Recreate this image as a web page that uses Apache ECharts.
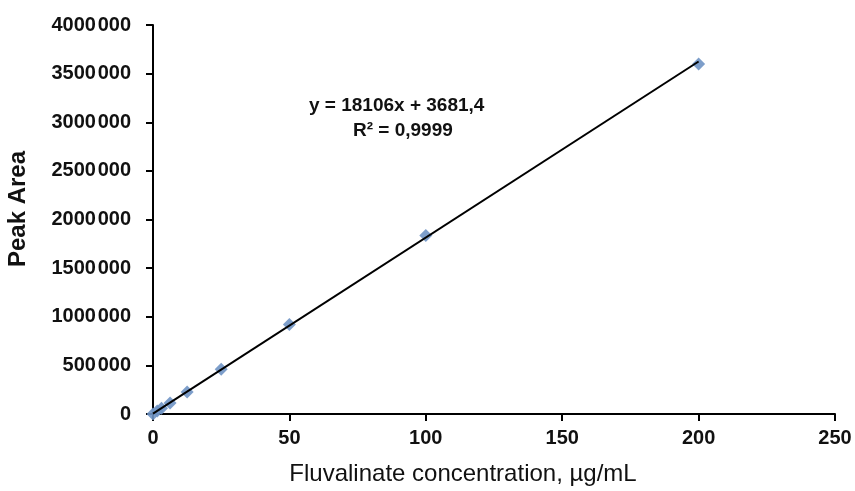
<!DOCTYPE html>
<html>
<head>
<meta charset="utf-8">
<script src="https://cdn.jsdelivr.net/npm/echarts@6/dist/echarts.min.js"></script>
<style>
  html, body { margin: 0; padding: 0; background: #fff; }
  #chart { width: 855px; height: 491px; }
</style>
</head>
<body>
<div id="chart"></div>
<script>
// 标准曲线数据
const concentrations = [0, 1.5625, 3.125, 6.25, 12.5, 25, 50, 100, 200];
const peakAreas = [0, 30000, 60000, 112000, 225000, 460000, 920000, 1835000, 3600000];
// 趋势线端点 y = 18106x + 3681,4
const trendX = [0, 200];
const trendY = [3681, 3624881];
const xTicks = [0, 50, 100, 150, 200, 250];
const yTicks = [0, 500000, 1000000, 1500000, 2000000, 2500000, 3000000, 3500000, 4000000];
const equationText = 'y = 18106x + 3681,4';
const r2Text = 'R² = 0,9999';

const FONT = '"Liberation Sans", Arial, sans-serif';

// 千位分隔：极窄空格（原图为 4000 000 样式）
const fmtY = v => {
  const s = String(v);
  return s.length > 3 ? s.slice(0, -3) + '\u200A' + s.slice(-3) : s;
};

const chart = echarts.init(document.getElementById('chart'));

chart.setOption({
  animation: false,
  backgroundColor: '#fff',
  grid: { left: 153, right: 20, top: 25, bottom: 77, containLabel: false },
  xAxis: {
    type: 'value', min: xTicks[0], max: xTicks[xTicks.length - 1], interval: xTicks[1] - xTicks[0],
    name: 'Fluvalinate concentration, µg/mL',
    nameLocation: 'middle', nameGap: 48,
    nameTextStyle: { fontFamily: FONT, fontSize: 24, color: '#111', padding: [0, 62, 0, 0] },
    axisLine: { show: true, lineStyle: { color: '#000', width: 2 } },
    axisTick: { show: true, inside: false, length: 7, lineStyle: { color: '#000', width: 2 } },
    axisLabel: { fontFamily: FONT, fontSize: 20, fontWeight: 'bold', color: '#111', margin: 14 },
    splitLine: { show: false }
  },
  yAxis: {
    type: 'value', min: yTicks[0], max: yTicks[yTicks.length - 1], interval: yTicks[1] - yTicks[0],
    axisLine: { show: true, lineStyle: { color: '#000', width: 2 } },
    axisTick: { show: true, inside: false, length: 7, lineStyle: { color: '#000', width: 2 } },
    axisLabel: { fontFamily: FONT, fontSize: 20, fontWeight: 'bold', color: '#111', margin: 22, formatter: fmtY },
    splitLine: { show: false }
  },
  series: [
    {
      name: 'points', type: 'scatter', symbol: 'diamond', symbolSize: 13,
      itemStyle: { color: '#6f93c4', opacity: 0.9 },
      data: concentrations.map((c, i) => [c, peakAreas[i]]),
      z: 2
    },
    {
      name: 'trend', type: 'line', symbol: 'none',
      lineStyle: { color: '#000', width: 2 },
      data: trendX.map((x, i) => [x, trendY[i]]),
      z: 3
    }
  ],
  graphic: [
    {
      type: 'text', x: 18, y: 209, rotation: Math.PI / 2,
      style: { text: 'Peak Area', fontFamily: FONT, fontSize: 24, fontWeight: 'bold', fill: '#111',
               align: 'center', verticalAlign: 'middle' }
    },
    {
      type: 'text', left: 309, top: 96,
      style: { text: equationText, fontFamily: FONT, fontSize: 19, fontWeight: 'bold', fill: '#111' }
    },
    {
      type: 'text', left: 353, top: 121,
      style: { text: r2Text, fontFamily: FONT, fontSize: 19, fontWeight: 'bold', fill: '#111' }
    }
  ]
});
</script>
</body>
</html>
